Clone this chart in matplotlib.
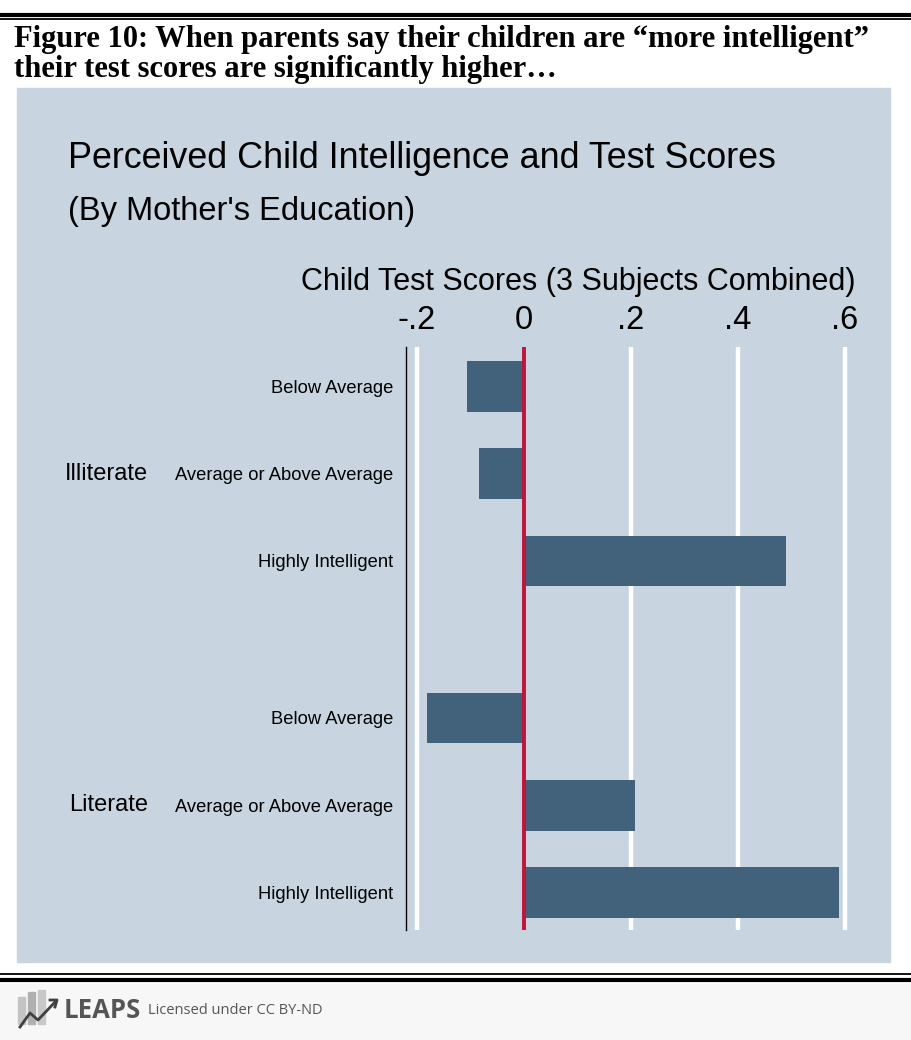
import matplotlib.pyplot as plt
from matplotlib.patches import Rectangle
from matplotlib.lines import Line2D

# data
groups = ["Illiterate", "Literate"]
categories = ["Below Average", "Average or Above Average", "Highly Intelligent"]
illiterate_scores = [-0.107, -0.084, 0.49]
literate_scores = [-0.182, 0.208, 0.588]
xticks = [-0.2, 0, 0.2, 0.4, 0.6]
xtick_labels = ["-.2", "0", ".2", ".4", ".6"]

W, H = 911, 1040
fig = plt.figure(figsize=(W / 100, H / 100), dpi=100)
fig.patch.set_facecolor("white")


def fx(x):
    return x / W


def fy(y):
    return 1 - y / H


# background panel and footer
fig.add_artist(Rectangle((fx(17), fy(962)), (890 - 17) / W, (962 - 88) / H,
                         transform=fig.transFigure, color="#C8D4DF", zorder=0))
fig.add_artist(Rectangle((0, 0), 1, (1040 - 984) / H,
                         transform=fig.transFigure, color="#F8F7F8", zorder=0))
for y, lw in [(14.5, 3.0), (18.5, 1.3), (974, 1.3), (980, 3.0)]:
    fig.add_artist(Line2D([0, 1], [fy(y)] * 2, transform=fig.transFigure,
                          color="black", lw=lw))

# header text
fig.text(fx(14), fy(39),
         "Figure 10: When parents say their children are \u201cmore intelligent\u201d",
         family="Liberation Serif", fontweight="bold", fontsize=22, va="center")
fig.text(fx(14), fy(70), "their test scores are significantly higher\u2026",
         family="Liberation Serif", fontweight="bold", fontsize=22, va="center")

fig.text(fx(68), fy(158), "Perceived Child Intelligence and Test Scores",
         family="Liberation Sans", fontsize=25.8, va="center")
fig.text(fx(68), fy(212), "(By Mother's Education)",
         family="Liberation Sans", fontsize=23.5, va="center")
fig.text(fx(578), fy(282), "Child Test Scores (3 Subjects Combined)",
         family="Liberation Sans", fontsize=22, va="center", ha="center")

ax = fig.add_axes([fx(406), fy(930), (870 - 406) / W, (930 - 347) / H])
ax.set_facecolor("none")

ylocs = [0, 1, 2, 3.8, 4.8, 5.8]
values = illiterate_scores + literate_scores
ax.barh(ylocs, values, height=0.58, color="#41627A", zorder=3)

for t in [-0.2, 0.2, 0.4, 0.6]:
    ax.axvline(t, color="white", lw=3.2, zorder=1)
ax.axvline(0, color="#C0143C", lw=2.8, zorder=4)

ax.set_xlim((406 - 524) / 535, (870 - 524) / 535)
ax.set_ylim(6.23, -0.45)

ax.xaxis.tick_top()
ax.set_xticks(xticks)
ax.set_xticklabels(xtick_labels, family="Liberation Sans", fontsize=23.5)
ax.tick_params(axis="x", length=0, pad=8)

ax.set_yticks(ylocs)
ax.set_yticklabels(categories * 2, family="Liberation Sans", fontsize=13.2)
ax.tick_params(axis="y", length=0, pad=9)

for s in ["top", "right", "bottom"]:
    ax.spines[s].set_visible(False)
ax.spines["left"].set_linewidth(1.0)

for g, yc in zip(groups, [1, 4.8]):
    ax.text((148 - 406) / (870 - 406), yc, g, transform=ax.get_yaxis_transform(),
            ha="right", va="center", family="Liberation Sans", fontsize=17)

# footer logo
for i, (top, c) in enumerate([(997, "#C4C4C4"), (992, "#B0B0B0"), (990, "#C8C8C8")]):
    fig.add_artist(Rectangle((fx(18 + i * 10), fy(1024)), 7 / W, (1024 - top) / H,
                             transform=fig.transFigure, color=c))
fig.add_artist(Line2D([fx(20), fx(30), fx(38), fx(56)],
                      [fy(1027), fy(1013), fy(1020), fy(1001)],
                      transform=fig.transFigure, color="#404040", lw=2.0))
fig.add_artist(Line2D([fx(50), fx(57), fx(55)],
                      [fy(1000), fy(1000), fy(1007)],
                      transform=fig.transFigure, color="#404040", lw=2.0))
fig.text(fx(64), fy(1010), "LEAPS", family="Open Sans", fontweight="bold",
         fontsize=18.5, color="#555555", va="center")
fig.text(fx(148), fy(1010), "Licensed under CC BY-ND", family="Open Sans",
         fontsize=10.5, color="#555555", va="center")

fig.savefig("out.png", dpi=100)
